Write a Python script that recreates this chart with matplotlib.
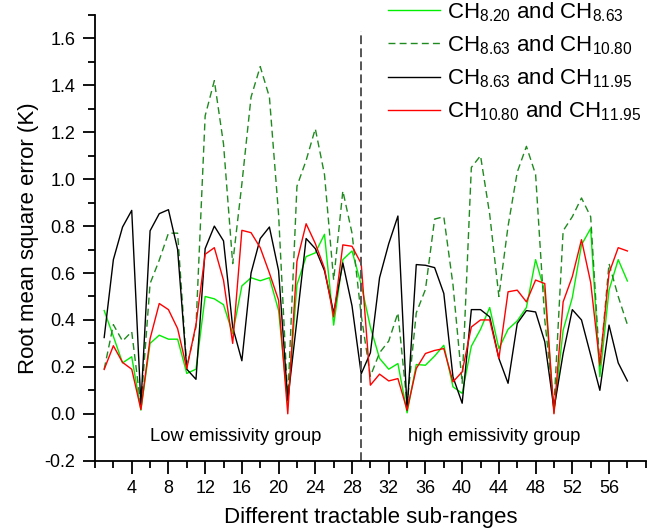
import numpy as np
import matplotlib
matplotlib.use('Agg')
import matplotlib.pyplot as plt
from matplotlib.ticker import MultipleLocator

plt.rcParams['font.family'] = ['Liberation Sans', 'DejaVu Sans']
plt.rcParams['mathtext.fontset'] = 'custom'
plt.rcParams['mathtext.rm'] = 'Liberation Sans'
plt.rcParams['mathtext.default'] = 'regular'

# sub-range index
sub_ranges = list(range(1, 59))

# CH8.20 and CH8.63
rmse_820_863 = [0.44, 0.33, 0.217, 0.243, 0.016, 0.30, 0.335, 0.318, 0.318, 0.172,
                0.19, 0.50, 0.49, 0.465, 0.342, 0.545, 0.58, 0.567, 0.58, 0.44,
                0.044, 0.55, 0.67, 0.686, 0.765, 0.378, 0.657, 0.694, 0.55, 0.37,
                0.236, 0.19, 0.214, 0.004, 0.21, 0.207, 0.246, 0.292, 0.115, 0.087,
                0.288, 0.36, 0.453, 0.278, 0.36, 0.396, 0.453, 0.657, 0.52, 0.004,
                0.356, 0.495, 0.72, 0.79, 0.158, 0.527, 0.657, 0.566]

# CH8.63 and CH10.80
rmse_863_1080 = [0.19, 0.38, 0.31, 0.35, 0.03, 0.555, 0.655, 0.77, 0.77, 0.20,
                 0.37, 1.27, 1.42, 1.15, 0.64, 0.98, 1.35, 1.48, 1.35, 0.85,
                 0.06, 0.97, 1.08, 1.215, 1.02, 0.57, 0.95, 0.77, 0.42, 0.16,
                 0.26, 0.31, 0.43, 0.04, 0.43, 0.53, 0.83, 0.84, 0.55, 0.13,
                 1.05, 1.10, 0.85, 0.50, 0.80, 1.03, 1.14, 1.02, 0.40, 0.03,
                 0.78, 0.84, 0.92, 0.84, 0.20, 0.64, 0.50, 0.38]

# CH8.63 and CH11.95
rmse_863_1195 = [0.325, 0.657, 0.796, 0.867, 0.04, 0.78, 0.853, 0.87, 0.70, 0.19,
                 0.147, 0.704, 0.80, 0.737, 0.37, 0.226, 0.60, 0.747, 0.796, 0.61,
                 0.058, 0.40, 0.747, 0.704, 0.61, 0.43, 0.643, 0.46, 0.17, 0.26,
                 0.58, 0.725, 0.843, 0.016, 0.636, 0.633, 0.623, 0.513, 0.157, 0.045,
                 0.444, 0.444, 0.413, 0.236, 0.13, 0.385, 0.44, 0.434, 0.307, 0.02,
                 0.257, 0.444, 0.40, 0.25, 0.10, 0.378, 0.217, 0.14]

# CH10.80 and CH11.95
rmse_1080_1195 = [0.189, 0.29, 0.219, 0.19, 0.018, 0.32, 0.47, 0.444, 0.363, 0.193,
                  0.38, 0.68, 0.708, 0.569, 0.30, 0.782, 0.772, 0.708, 0.60, 0.484,
                  0.0, 0.65, 0.81, 0.726, 0.62, 0.413, 0.72, 0.714, 0.64, 0.122,
                  0.169, 0.14, 0.15, 0.016, 0.193, 0.257, 0.27, 0.278, 0.136, 0.179,
                  0.37, 0.40, 0.40, 0.236, 0.52, 0.527, 0.477, 0.57, 0.555, 0.0,
                  0.477, 0.585, 0.742, 0.56, 0.21, 0.60, 0.708, 0.694]

fig = plt.figure(figsize=(6.7, 5.31), dpi=100)
ax = fig.add_axes([0.1418, 0.1324, 0.822, 0.8394])

ax.plot(sub_ranges, rmse_820_863, color='#00ee00', lw=1.0, label=r'CH$_{8.20}$ and CH$_{8.63}$')
ax.plot(sub_ranges, rmse_863_1080, color='#1f8a1f', lw=1.0, ls=(0, (5, 3)), label=r'CH$_{8.63}$ and CH$_{10.80}$')
ax.plot(sub_ranges, rmse_863_1195, color='black', lw=1.0, label=r'CH$_{8.63}$ and CH$_{11.95}$')
ax.plot(sub_ranges, rmse_1080_1195, color='red', lw=1.0, label=r'CH$_{10.80}$ and CH$_{11.95}$')

# group separator
ax.plot([29, 29], [-0.2, 1.63], color='#555555', lw=1.4, ls=(0, (4.5, 2.2)))

ax.text(15.3, -0.095, 'Low emissivity group', ha='center', va='center', fontsize=13.3)
ax.text(43.5, -0.095, 'high emissivity group', ha='center', va='center', fontsize=13.3)

ax.set_xlim(0, 60)
ax.set_ylim(-0.2, 1.7)
ax.set_xticks(range(4, 57, 4))
ax.xaxis.set_minor_locator(MultipleLocator(2))
ax.yaxis.set_minor_locator(MultipleLocator(0.1))
yt = np.arange(-0.2, 1.61, 0.2)
ax.set_yticks(yt)
ax.set_yticklabels(['%.1f' % v for v in yt])

ax.spines['top'].set_visible(False)
ax.spines['right'].set_visible(False)
ax.spines['left'].set_linewidth(1.3)
ax.spines['bottom'].set_linewidth(1.3)
ax.tick_params(which='major', direction='out', length=9, width=1.3, labelsize=13, pad=5)
ax.tick_params(which='minor', direction='out', length=5, width=1.3)

ax.set_xlabel('Different tractable sub-ranges', fontsize=16, labelpad=7)
ax.set_ylabel('Root mean square error (K)', fontsize=16, labelpad=4)

fig.legend(loc='upper left', bbox_to_anchor=(388 / 670, 1.0), frameon=False,
           fontsize=16, handlelength=2.35, labelspacing=0.43, handletextpad=0.32,
           borderpad=0, borderaxespad=0)

fig.savefig('out.png', dpi=100)
